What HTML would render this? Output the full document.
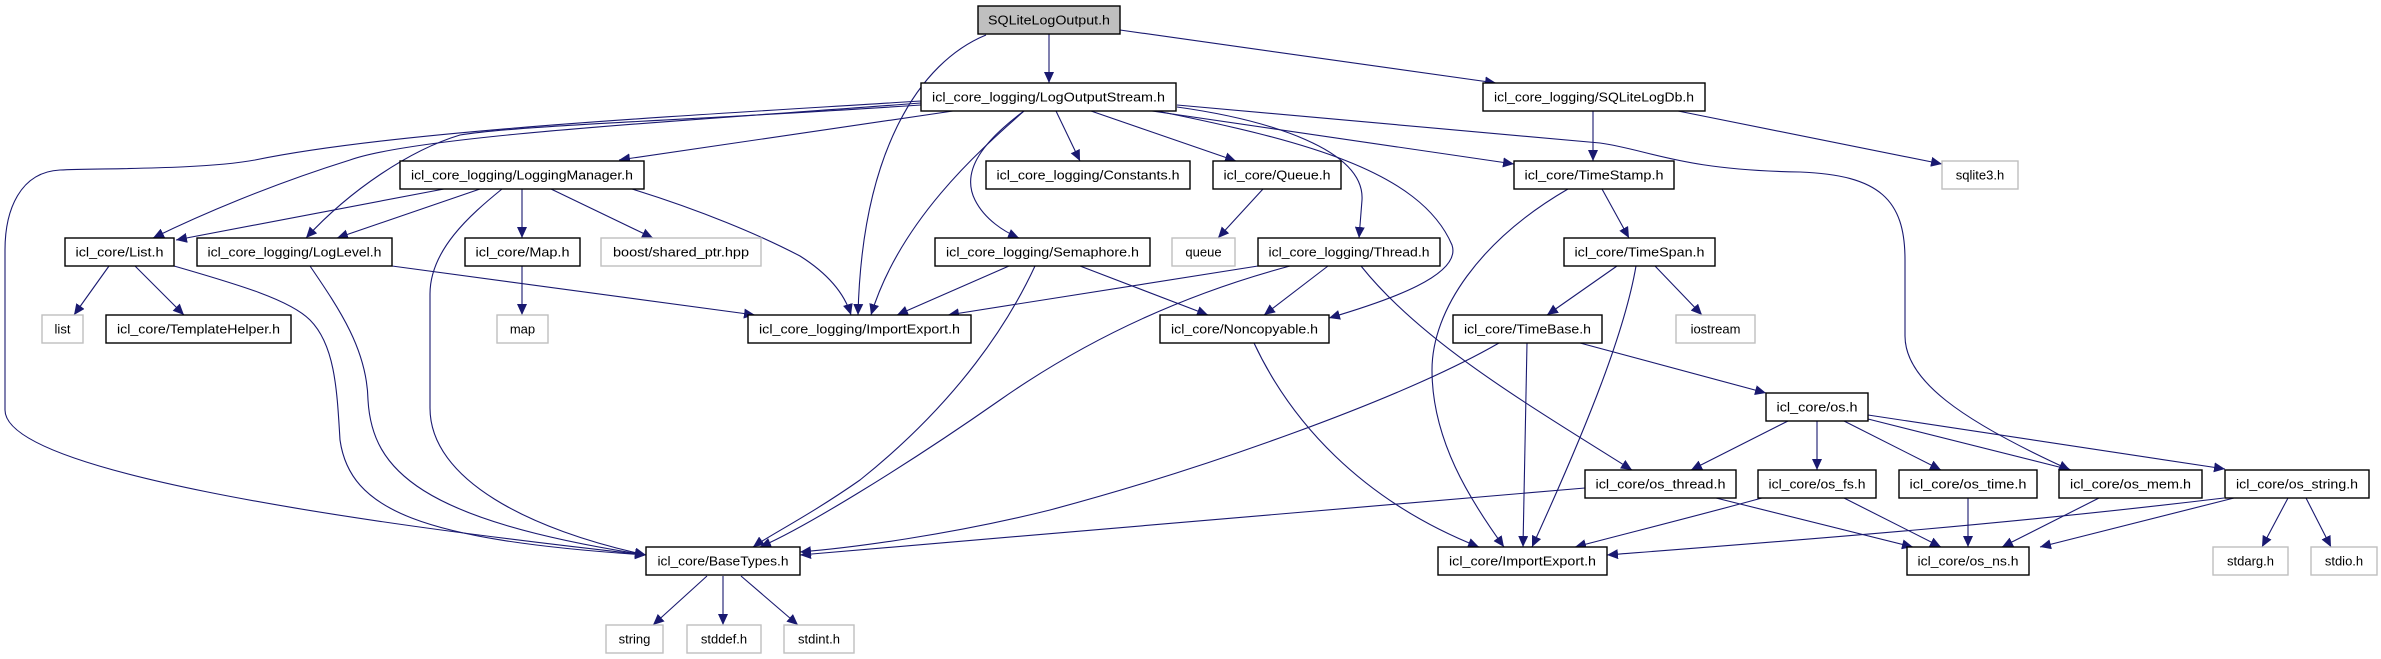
<!DOCTYPE html>
<html><head><meta charset="utf-8"><style>
html,body{margin:0;padding:0;background:#fff;}
svg{display:block;}
text{font-family:"Liberation Sans",sans-serif;font-size:13px;fill:#000;}
.n{fill:#fff;stroke:#000;stroke-width:1.4;}
.g{fill:#fff;stroke:#bfbfbf;stroke-width:1.4;}
.e{fill:none;stroke:#191970;stroke-width:1.1;}
</style></head><body>
<svg width="2381" height="659" viewBox="0 0 2381 659" xmlns="http://www.w3.org/2000/svg">
<defs><marker id="a" markerUnits="userSpaceOnUse" markerWidth="12" markerHeight="10" refX="11" refY="5" orient="auto"><path d="M0,0 L11,5 L0,10 Z" fill="#191970"/></marker></defs>
<g class="edges">
<path class="e" marker-end="url(#a)" d="M1049,34 L1049,83"/>
<path class="e" marker-end="url(#a)" d="M986,35 C920,62 862,150 858,315"/>
<path class="e" marker-end="url(#a)" d="M1120,30 L1496,83"/>
<path class="e" marker-end="url(#a)" d="M1056,111 L1080,161"/>
<path class="e" marker-end="url(#a)" d="M1091,111 L1236,161"/>
<path class="e" marker-end="url(#a)" d="M1152,111 L1514,164"/>
<path class="e" marker-end="url(#a)" d="M1024,111 C985,140 960,170 975,200 C985,220 1005,232 1019,238"/>
<path class="e" marker-end="url(#a)" d="M1024,111 C980,150 900,220 871,315"/>
<path class="e" marker-end="url(#a)" d="M1177,107 C1270,120 1365,150 1362,200 L1359,238"/>
<path class="e" marker-end="url(#a)" d="M1157,111 C1300,140 1420,170 1452,245 C1462,275 1390,300 1329,318"/>
<path class="e" marker-end="url(#a)" d="M1177,105 L1600,143 C1650,150 1680,170 1800,172 C1880,175 1905,200 1905,260 L1905,336 C1905,380 1960,420 2070,470"/>
<path class="e" marker-end="url(#a)" d="M953,111 L619,160"/>
<path class="e" marker-end="url(#a)" d="M921,103 C700,120 420,135 350,160 C270,185 200,215 153,238"/>
<path class="e" marker-end="url(#a)" d="M921,105 C700,120 520,125 460,135 C410,150 350,190 306,238"/>
<path class="e" marker-end="url(#a)" d="M921,101 C700,115 400,130 255,160 C200,170 100,168 60,170 C20,172 5,210 5,250 L5,410 C5,470 330,520 646,555"/>
<path class="e" marker-end="url(#a)" d="M632,189 C700,210 760,235 800,256 C830,275 845,295 851,315"/>
<path class="e" marker-end="url(#a)" d="M444,189 L176,240"/>
<path class="e" marker-end="url(#a)" d="M480,189 L337,238"/>
<path class="e" marker-end="url(#a)" d="M522,189 L522,238"/>
<path class="e" marker-end="url(#a)" d="M551,189 L653,238"/>
<path class="e" marker-end="url(#a)" d="M502,189 C470,215 430,250 430,294 L430,408 C430,480 530,530 646,555"/>
<path class="e" marker-end="url(#a)" d="M109,266 L74,315"/>
<path class="e" marker-end="url(#a)" d="M135,266 L184,315"/>
<path class="e" marker-end="url(#a)" d="M174,266 C240,285 290,300 310,320 C335,345 337,390 340,440 C350,510 420,540 646,555"/>
<path class="e" marker-end="url(#a)" d="M310,266 C340,310 367,350 368,400 C372,470 420,520 646,555"/>
<path class="e" marker-end="url(#a)" d="M392,266 L755,315"/>
<path class="e" marker-end="url(#a)" d="M522,266 L522,315"/>
<path class="e" marker-end="url(#a)" d="M1009,266 L897,315"/>
<path class="e" marker-end="url(#a)" d="M1080,266 L1208,315"/>
<path class="e" marker-end="url(#a)" d="M1035,266 C1010,320 960,400 860,480 C810,515 770,535 753,547"/>
<path class="e" marker-end="url(#a)" d="M1258,266 L948,315"/>
<path class="e" marker-end="url(#a)" d="M1328,266 L1264,315"/>
<path class="e" marker-end="url(#a)" d="M1290,266 C1200,290 1100,330 1000,400 C900,470 800,530 760,547"/>
<path class="e" marker-end="url(#a)" d="M1361,266 C1420,340 1520,400 1632,470"/>
<path class="e" marker-end="url(#a)" d="M1568,189 C1480,240 1432,310 1432,370 C1432,440 1470,500 1504,547"/>
<path class="e" marker-end="url(#a)" d="M1593,111 L1593,161"/>
<path class="e" marker-end="url(#a)" d="M1678,111 L1942,164"/>
<path class="e" marker-end="url(#a)" d="M1602,189 L1629,238"/>
<path class="e" marker-end="url(#a)" d="M1617,266 L1547,315"/>
<path class="e" marker-end="url(#a)" d="M1636,266 C1625,330 1590,420 1532,547"/>
<path class="e" marker-end="url(#a)" d="M1655,266 L1702,315"/>
<path class="e" marker-end="url(#a)" d="M1527,343 L1523,547"/>
<path class="e" marker-end="url(#a)" d="M1499,343 C1400,400 1200,470 1050,510 C950,535 850,548 800,552"/>
<path class="e" marker-end="url(#a)" d="M1580,343 L1766,393"/>
<path class="e" marker-end="url(#a)" d="M1788,421 L1691,470"/>
<path class="e" marker-end="url(#a)" d="M1817,421 L1817,470"/>
<path class="e" marker-end="url(#a)" d="M1844,421 L1941,470"/>
<path class="e" marker-end="url(#a)" d="M1868,419 L2071,470"/>
<path class="e" marker-end="url(#a)" d="M1868,415 L2225,469"/>
<path class="e" marker-end="url(#a)" d="M1585,488 L800,555"/>
<path class="e" marker-end="url(#a)" d="M1716,498 L1913,547"/>
<path class="e" marker-end="url(#a)" d="M1762,498 C1700,515 1640,530 1575,547"/>
<path class="e" marker-end="url(#a)" d="M1844,498 L1941,547"/>
<path class="e" marker-end="url(#a)" d="M1968,498 L1968,547"/>
<path class="e" marker-end="url(#a)" d="M2099,498 L2002,547"/>
<path class="e" marker-end="url(#a)" d="M2234,498 L2040,547"/>
<path class="e" marker-end="url(#a)" d="M2224,498 C2000,525 1800,540 1607,555"/>
<path class="e" marker-end="url(#a)" d="M2288,498 L2262,547"/>
<path class="e" marker-end="url(#a)" d="M2306,498 L2331,547"/>
<path class="e" marker-end="url(#a)" d="M1254,343 C1290,420 1360,500 1479,547"/>
<path class="e" marker-end="url(#a)" d="M707,576 L653,625"/>
<path class="e" marker-end="url(#a)" d="M723,576 L723,625"/>
<path class="e" marker-end="url(#a)" d="M741,576 L798,625"/>
<path class="e" marker-end="url(#a)" d="M1263,189 L1218,238"/>
</g>
<g class="nodes" text-anchor="middle">
<rect x="978" y="6" width="142" height="28" fill="#bfbfbf" stroke="#000" stroke-width="1.4"/><text x="1049" y="24.5" textLength="122" lengthAdjust="spacingAndGlyphs">SQLiteLogOutput.h</text>
<rect class="n" x="921" y="83" width="255" height="28"/><text x="1048.5" y="101.5" textLength="233" lengthAdjust="spacingAndGlyphs">icl_core_logging/LogOutputStream.h</text>
<rect class="n" x="1483" y="83" width="222" height="28"/><text x="1594" y="101.5" textLength="200" lengthAdjust="spacingAndGlyphs">icl_core_logging/SQLiteLogDb.h</text>
<rect class="n" x="400" y="161" width="244" height="28"/><text x="522" y="179.5" textLength="222" lengthAdjust="spacingAndGlyphs">icl_core_logging/LoggingManager.h</text>
<rect class="n" x="986" y="161" width="204" height="28"/><text x="1088" y="179.5" textLength="183" lengthAdjust="spacingAndGlyphs">icl_core_logging/Constants.h</text>
<rect class="n" x="1213" y="161" width="128" height="28"/><text x="1277" y="179.5" textLength="107" lengthAdjust="spacingAndGlyphs">icl_core/Queue.h</text>
<rect class="n" x="1514" y="161" width="160" height="28"/><text x="1594" y="179.5" textLength="139" lengthAdjust="spacingAndGlyphs">icl_core/TimeStamp.h</text>
<rect class="g" x="1942" y="161" width="76" height="28"/><text x="1980" y="179.5">sqlite3.h</text>
<rect class="n" x="65" y="238" width="109" height="28"/><text x="119.5" y="256.5" textLength="88" lengthAdjust="spacingAndGlyphs">icl_core/List.h</text>
<rect class="n" x="197" y="238" width="195" height="28"/><text x="294.5" y="256.5" textLength="174" lengthAdjust="spacingAndGlyphs">icl_core_logging/LogLevel.h</text>
<rect class="n" x="465" y="238" width="115" height="28"/><text x="522.5" y="256.5" textLength="94" lengthAdjust="spacingAndGlyphs">icl_core/Map.h</text>
<rect class="g" x="601" y="238" width="160" height="28"/><text x="681" y="256.5" textLength="136" lengthAdjust="spacingAndGlyphs">boost/shared_ptr.hpp</text>
<rect class="n" x="935" y="238" width="215" height="28"/><text x="1042.5" y="256.5" textLength="193" lengthAdjust="spacingAndGlyphs">icl_core_logging/Semaphore.h</text>
<rect class="g" x="1172" y="238" width="63" height="28"/><text x="1203.5" y="256.5">queue</text>
<rect class="n" x="1258" y="238" width="182" height="28"/><text x="1349" y="256.5" textLength="161" lengthAdjust="spacingAndGlyphs">icl_core_logging/Thread.h</text>
<rect class="n" x="1564" y="238" width="151" height="28"/><text x="1639.5" y="256.5" textLength="130" lengthAdjust="spacingAndGlyphs">icl_core/TimeSpan.h</text>
<rect class="g" x="42" y="315" width="41" height="28"/><text x="62.5" y="333.5">list</text>
<rect class="n" x="106" y="315" width="185" height="28"/><text x="198.5" y="333.5" textLength="163" lengthAdjust="spacingAndGlyphs">icl_core/TemplateHelper.h</text>
<rect class="g" x="497" y="315" width="51" height="28"/><text x="522.5" y="333.5">map</text>
<rect class="n" x="748" y="315" width="223" height="28"/><text x="859.5" y="333.5" textLength="201" lengthAdjust="spacingAndGlyphs">icl_core_logging/ImportExport.h</text>
<rect class="n" x="1160" y="315" width="169" height="28"/><text x="1244.5" y="333.5" textLength="147" lengthAdjust="spacingAndGlyphs">icl_core/Noncopyable.h</text>
<rect class="n" x="1453" y="315" width="149" height="28"/><text x="1527.5" y="333.5" textLength="127" lengthAdjust="spacingAndGlyphs">icl_core/TimeBase.h</text>
<rect class="g" x="1676" y="315" width="79" height="28"/><text x="1715.5" y="333.5">iostream</text>
<rect class="n" x="1766" y="393" width="102" height="28"/><text x="1817" y="411.5" textLength="81" lengthAdjust="spacingAndGlyphs">icl_core/os.h</text>
<rect class="n" x="1585" y="470" width="151" height="28"/><text x="1660.5" y="488.5" textLength="130" lengthAdjust="spacingAndGlyphs">icl_core/os_thread.h</text>
<rect class="n" x="1758" y="470" width="118" height="28"/><text x="1817" y="488.5" textLength="97" lengthAdjust="spacingAndGlyphs">icl_core/os_fs.h</text>
<rect class="n" x="1899" y="470" width="138" height="28"/><text x="1968" y="488.5" textLength="117" lengthAdjust="spacingAndGlyphs">icl_core/os_time.h</text>
<rect class="n" x="2059" y="470" width="143" height="28"/><text x="2130.5" y="488.5" textLength="121" lengthAdjust="spacingAndGlyphs">icl_core/os_mem.h</text>
<rect class="n" x="2225" y="470" width="144" height="28"/><text x="2297" y="488.5" textLength="122" lengthAdjust="spacingAndGlyphs">icl_core/os_string.h</text>
<rect class="n" x="646" y="547" width="154" height="28"/><text x="723" y="565.5" textLength="131" lengthAdjust="spacingAndGlyphs">icl_core/BaseTypes.h</text>
<rect class="n" x="1438" y="547" width="169" height="28"/><text x="1522.5" y="565.5" textLength="147" lengthAdjust="spacingAndGlyphs">icl_core/ImportExport.h</text>
<rect class="n" x="1907" y="547" width="122" height="28"/><text x="1968" y="565.5" textLength="101" lengthAdjust="spacingAndGlyphs">icl_core/os_ns.h</text>
<rect class="g" x="2213" y="547" width="75" height="28"/><text x="2250.5" y="565.5">stdarg.h</text>
<rect class="g" x="2311" y="547" width="66" height="28"/><text x="2344" y="565.5">stdio.h</text>
<rect class="g" x="606" y="625" width="57" height="28"/><text x="634.5" y="643.5">string</text>
<rect class="g" x="687" y="625" width="74" height="28"/><text x="724" y="643.5">stddef.h</text>
<rect class="g" x="784" y="625" width="70" height="28"/><text x="819" y="643.5">stdint.h</text>
</g>
</svg>
</body></html>
